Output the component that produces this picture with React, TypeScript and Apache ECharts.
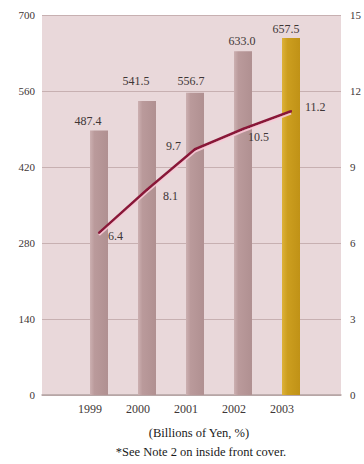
import React, { useEffect, useRef } from "react";
import * as echarts from "echarts";

// Fiscal years on the category axis
const years = ["1999", "2000", "2001", "2002", "2003"];
// Net sales, billions of yen (bars, left axis)
const salesValues = [487.4, 541.5, 556.7, 633.0, 657.5];
// Ratio, % (line, right axis)
const ratioValues = [6.4, 8.1, 9.7, 10.5, 11.2];
// Axis tick values
const leftTicks = [0, 140, 280, 420, 560, 700];
const rightTicks = [0, 3, 6, 9, 12, 15];

// Label placement tweaks (pixels)
const barLabelOffsets = [[-11, 2], [-11, -9], [-4, -1], [-1, 1], [-5, 2]];
const lineLabelPlacement = [
  { position: "right", offset: [3, 3] },
  { position: "right", offset: [10, 6] },
  { position: "left", offset: [-8, -3] },
  { position: "right", offset: [-1, 8] },
  { position: "right", offset: [8, -4] },
];

const SERIF = "'Liberation Serif', 'DejaVu Serif', serif";
const TEXT = "#3e3636";

const roseBar = new echarts.graphic.LinearGradient(0, 0, 1, 0, [
  { offset: 0, color: "#ccb0b1" },
  { offset: 0.25, color: "#ba9a9b" },
  { offset: 1, color: "#b09091" },
]);
const goldBar = new echarts.graphic.LinearGradient(0, 0, 1, 0, [
  { offset: 0, color: "#ddb23a" },
  { offset: 0.3, color: "#cc9e1f" },
  { offset: 1, color: "#c09216" },
]);

export default function App() {
  const ref = useRef<HTMLDivElement>(null);

  useEffect(() => {
    if (!ref.current) return;
    const chart = echarts.init(ref.current, null, { renderer: "svg" });
    const lastIdx = years.length - 1;

    chart.setOption({
      animation: false,
      backgroundColor: "#ffffff",
      grid: [
        {
          left: 42,
          right: 17,
          top: 15,
          bottom: 69,
          show: true,
          backgroundColor: "#e9d8da",
          borderWidth: 0,
        },
        { left: 75, right: 49, top: 15, bottom: 69 },
      ],
      xAxis: [
        {
          type: "category",
          gridIndex: 0,
          data: years,
          axisLine: { show: true, lineStyle: { color: "#b3a3a3", width: 1.5 } },
          axisTick: { show: false },
          axisLabel: { show: false },
        },
        {
          type: "category",
          gridIndex: 1,
          data: years,
          axisLine: { show: false },
          axisTick: { show: false },
          axisLabel: {
            fontFamily: SERIF,
            fontSize: 12,
            color: TEXT,
            margin: 8,
            padding: [0, 18, 0, 0],
          },
        },
      ],
      yAxis: [
        {
          type: "value",
          gridIndex: 0,
          min: leftTicks[0],
          max: leftTicks[leftTicks.length - 1],
          interval: leftTicks[1] - leftTicks[0],
          axisLine: { show: false },
          axisTick: { show: false },
          axisLabel: { fontFamily: SERIF, fontSize: 11, color: TEXT, margin: 7 },
          splitLine: { lineStyle: { color: "#c7b0b1", width: 1 } },
        },
        {
          type: "value",
          gridIndex: 0,
          position: "right",
          min: rightTicks[0],
          max: rightTicks[rightTicks.length - 1],
          interval: rightTicks[1] - rightTicks[0],
          axisLine: { show: false },
          axisTick: { show: false },
          axisLabel: { fontFamily: SERIF, fontSize: 11, color: TEXT, margin: 9 },
          splitLine: { show: false },
        },
        {
          type: "value",
          gridIndex: 1,
          min: leftTicks[0],
          max: leftTicks[leftTicks.length - 1],
          show: false,
        },
        {
          type: "value",
          gridIndex: 1,
          min: rightTicks[0],
          max: rightTicks[rightTicks.length - 1],
          show: false,
        },
      ],
      series: [
        {
          type: "bar",
          xAxisIndex: 1,
          yAxisIndex: 2,
          barWidth: 18,
          data: salesValues.map((v, i) => ({
            value: v,
            itemStyle: { color: i === lastIdx ? goldBar : roseBar },
            label: { offset: barLabelOffsets[i] },
          })),
          label: {
            show: true,
            position: "top",
            distance: 5,
            fontFamily: SERIF,
            fontSize: 12,
            color: TEXT,
            formatter: (p: any) => Number(p.value).toFixed(1),
          },
        },
        {
          type: "line",
          xAxisIndex: 1,
          yAxisIndex: 3,
          symbol: "circle",
          symbolSize: 2,
          itemStyle: { color: "#8a1839" },
          lineStyle: {
            color: "#8a1839",
            width: 2.6,
            shadowColor: "rgba(250,200,215,0.9)",
            shadowOffsetY: 2,
            shadowBlur: 1,
          },
          data: ratioValues.map((v, i) => ({
            value: v,
            label: lineLabelPlacement[i],
          })),
          label: {
            show: true,
            fontFamily: SERIF,
            fontSize: 12,
            color: TEXT,
            formatter: (p: any) => Number(p.value).toFixed(1),
          },
          z: 5,
        },
      ],
      graphic: [
        {
          type: "text",
          x: 199,
          y: 426,
          style: {
            text: "(Billions of Yen, %)",
            font: `12.5px ${SERIF}`,
            fill: "#1a1a1a",
            textAlign: "center",
          },
        },
        {
          type: "text",
          x: 201,
          y: 445,
          style: {
            text: "*See Note 2 on inside front cover.",
            font: `12.5px ${SERIF}`,
            fill: "#1a1a1a",
            textAlign: "center",
          },
        },
      ],
    });

    return () => chart.dispose();
  }, []);

  return (
    <div
      ref={ref}
      style={{ position: "fixed", left: 0, top: 0, width: 364, height: 464 }}
    />
  );
}
